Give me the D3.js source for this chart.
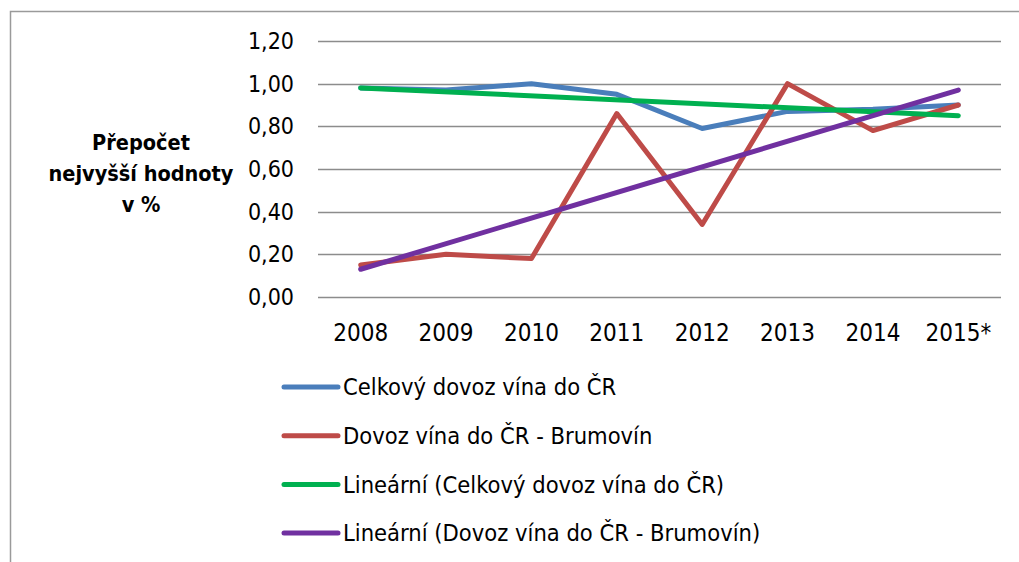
<!DOCTYPE html>
<html lang="cs">
<head>
  <meta charset="UTF-8">
  <title>Přepočet nejvyšší hodnoty</title>
  <script src="https://cdn.jsdelivr.net/npm/d3@7"></script>
  <style>
    body { margin: 0; background: #fff; }
    svg { display: block; font-family: 'Liberation Sans Narrow', 'DejaVu Sans Condensed', 'Open Sans', sans-serif; }
  </style>
</head>
<body>
  <script>
    // data
    const years = ["2008", "2009", "2010", "2011", "2012", "2013", "2014", "2015*"];
    const celkovy = [0.98, 0.97, 1.00, 0.95, 0.79, 0.87, 0.88, 0.90];
    const brumovin = [0.15, 0.20, 0.18, 0.86, 0.34, 1.00, 0.78, 0.90];
    // trend lines: values at first and last year
    const trendCelkovy = [0.98, 0.85];
    const trendBrumovin = [0.13, 0.97];
    const yTicks = [0, 0.2, 0.4, 0.6, 0.8, 1.0, 1.2];

    const names = [
      "Celkový dovoz vína do ČR",
      "Dovoz vína do ČR - Brumovín",
      "Lineární (Celkový dovoz vína do ČR)",
      "Lineární (Dovoz vína do ČR - Brumovín)"
    ];
    const colors = ["#4a7ebb", "#be4b48", "#00b050", "#7030a0"];

    const width = 1019, height = 562;
    const plotLeft = 318, plotRight = 1001, plotTop = 41, plotBottom = 297;

    const svg = d3.select("body").append("svg")
        .attr("width", width)
        .attr("height", height);

    // chart frame
    svg.append("path")
        .attr("d", `M10.5,${height} V11.5 H${width}`)
        .attr("fill", "none")
        .attr("stroke", "#9a9a9a")
        .attr("stroke-width", 1.5);

    const x = d3.scaleBand().domain(years).range([plotLeft, plotRight]);
    const y = d3.scaleLinear().domain([0, 1.2]).range([plotBottom, plotTop]);

    // grid
    svg.append("g")
        .attr("stroke", "#8c8c8c")
        .attr("stroke-width", 1.5)
      .selectAll("line")
      .data(yTicks)
      .join("line")
        .attr("x1", plotLeft)
        .attr("x2", plotRight)
        .attr("y1", d => Math.round(y(d)) + 0.5)
        .attr("y2", d => Math.round(y(d)) + 0.5);

    // y tick labels
    svg.append("g")
        .attr("font-size", 23)
        .attr("fill", "#000")
      .selectAll("text")
      .data(yTicks)
      .join("text")
        .attr("x", 294)
        .attr("y", d => y(d))
        .attr("dy", "0.35em")
        .attr("text-anchor", "end")
        .text(d => d3.format(".2f")(d).replace(".", ","));

    // x labels
    svg.append("g")
        .attr("font-size", 24)
      .selectAll("text")
      .data(years)
      .join("text")
        .attr("x", d => x(d) + x.bandwidth() / 2)
        .attr("y", 341)
        .attr("text-anchor", "middle")
        .text(d => d);

    // y axis title
    svg.append("text")
        .attr("font-size", 21.5)
        .attr("font-weight", "bold")
        .attr("text-anchor", "middle")
      .selectAll("tspan")
      .data(["Přepočet", "nejvyšší hodnoty", "v %"])
      .join("tspan")
        .attr("x", 141)
        .attr("y", (d, i) => 150 + i * 31)
        .text(d => d);

    const cx = d => x(d) + x.bandwidth() / 2;
    const line = d3.line().x(d => cx(d[0])).y(d => y(d[1]));
    const ends = [years[0], years[years.length - 1]];

    const series = [
      years.map((yr, i) => [yr, celkovy[i]]),
      years.map((yr, i) => [yr, brumovin[i]]),
      ends.map((yr, i) => [yr, trendCelkovy[i]]),
      ends.map((yr, i) => [yr, trendBrumovin[i]])
    ];

    svg.append("g")
        .attr("fill", "none")
        .attr("stroke-width", 5)
        .attr("stroke-linejoin", "round")
        .attr("stroke-linecap", "round")
      .selectAll("path")
      .data(series)
      .join("path")
        .attr("stroke", (d, i) => colors[i])
        .attr("d", line);

    // legend
    const legend = svg.append("g")
      .selectAll("g")
      .data(names)
      .join("g")
        .attr("transform", (d, i) => `translate(284,${387 + i * 48.7})`);

    legend.append("line")
        .attr("x1", 0)
        .attr("x2", 54)
        .attr("stroke", (d, i) => colors[names.indexOf(d)])
        .attr("stroke-width", 5)
        .attr("stroke-linecap", "round");

    legend.append("text")
        .attr("x", 59)
        .attr("dy", "0.35em")
        .attr("font-size", 23.5)
        .text(d => d);
  </script>
</body>
</html>
